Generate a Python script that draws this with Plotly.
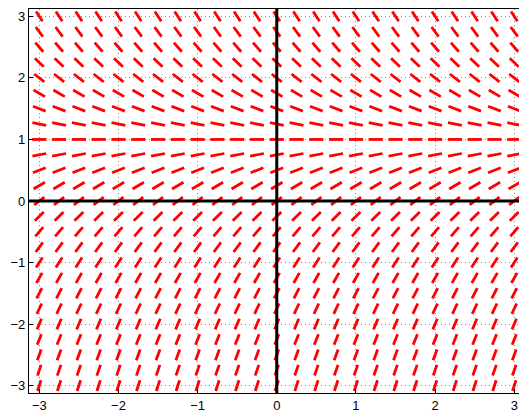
import plotly.graph_objects as go

# grid of sample points (columns and rows of the direction field)
x_vals = [-3.0, -2.75, -2.5, -2.25, -2.0, -1.75, -1.5, -1.25, -1.0, -0.75, -0.5, -0.25,
          0.0, 0.25, 0.5, 0.75, 1.0, 1.25, 1.5, 1.75, 2.0, 2.25, 2.5, 2.75, 3.0]
y_vals = [-3.0, -2.75, -2.5, -2.25, -2.0, -1.75, -1.5, -1.25, -1.0, -0.75, -0.5, -0.25,
          0.0, 0.25, 0.5, 0.75, 1.0, 1.25, 1.5, 1.75, 2.0, 2.25, 2.5, 2.75, 3.0]
# slope read for each row (same along a row)
row_slopes = [4.0, 3.75, 3.5, 3.25, 3.0, 2.75, 2.5, 2.25, 2.0, 1.75, 1.5, 1.25,
              1.0, 0.75, 0.5, 0.25, 0.0, -0.25, -0.5, -0.75, -1.0, -1.25, -1.5, -1.75, -2.0]
tick_vals = [-3, -2, -1, 0, 1, 2, 3]
tick_text = ["\u22123", "\u22122", "\u22121", "0", "1", "2", "3"]

seg_len = 0.18

sx, sy = [], []
for yv, m in zip(y_vals, row_slopes):
    n = (1 + m * m) ** 0.5
    dx = seg_len / 2 / n
    dy = seg_len / 2 * m / n
    for xv in x_vals:
        sx += [xv - dx, xv + dx, None]
        sy += [yv - dy, yv + dy, None]

fig = go.Figure()
fig.add_trace(go.Scatter(x=sx, y=sy, mode="lines",
                         line=dict(color="#ff0000", width=2.8),
                         hoverinfo="skip", showlegend=False))

fig.add_shape(type="line", x0=-3.13, x1=3.2, y0=0, y1=0, xref="x", yref="y",
              line=dict(color="black", width=3), layer="above")
fig.add_shape(type="line", x0=0, x1=0, y0=-3.12, y1=3.12, xref="x", yref="y",
              line=dict(color="black", width=3), layer="above")

axis_common = dict(
    tickmode="array", tickvals=tick_vals, ticktext=tick_text,
    ticks="inside", ticklen=4, tickcolor="black", tickwidth=1,
    showgrid=True, gridcolor="#8a8a8a", griddash="1px,3px", gridwidth=1,
    zeroline=False, showline=True, linecolor="black", linewidth=1.3,
    tickfont=dict(family="Liberation Sans, Arial", size=13, color="black"),
    automargin=False,
)

fig.update_xaxes(range=[-3.13, 3.06], mirror=True, **axis_common)
fig.update_yaxes(range=[-3.12, 3.12], mirror=False, **axis_common)

fig.update_layout(
    width=519, height=411,
    margin=dict(l=29, r=0, t=9, b=18),
    plot_bgcolor="white", paper_bgcolor="white",
)

fig.write_html(
    "out.html",
    config={"displayModeBar": False},
    post_script="document.body.style.margin='0';document.body.style.overflow='hidden';",
)
